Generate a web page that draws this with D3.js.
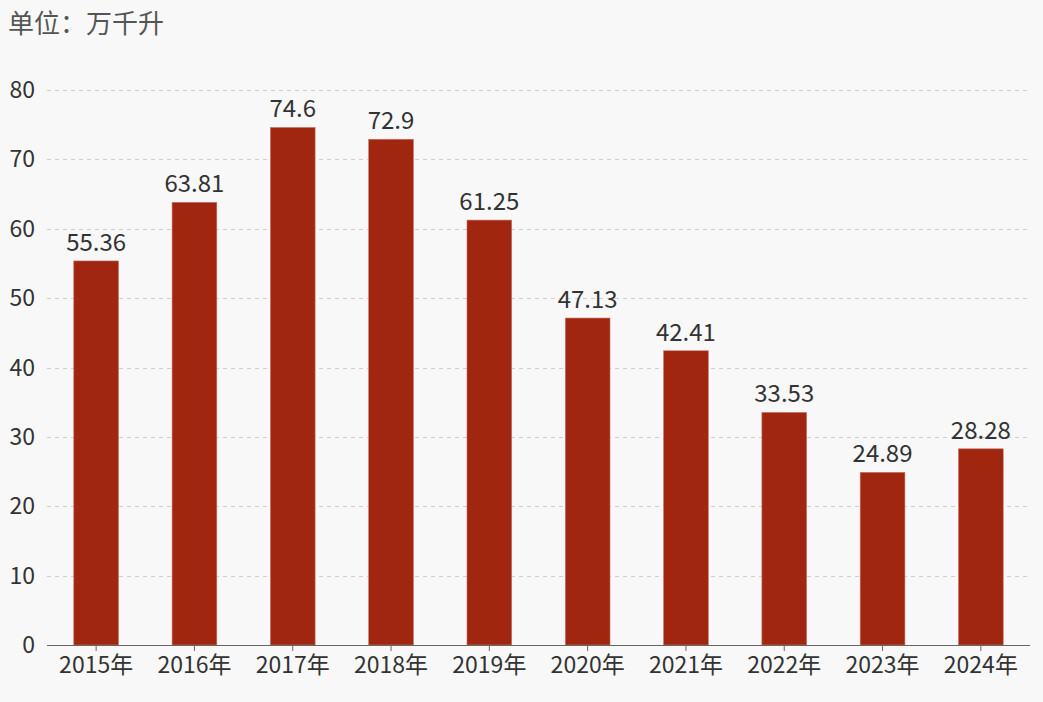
<!DOCTYPE html>
<html><head><meta charset="utf-8">
<script src="https://cdn.jsdelivr.net/npm/d3@7"></script>
<style>
html,body{margin:0;padding:0;background:#f8f8f8;}
svg{display:block;font-family:"Noto Sans CJK SC","Noto Sans",sans-serif;}
</style></head>
<body>
<svg id="chart" width="1043" height="702"></svg>
<script>
const categories = ["2015年","2016年","2017年","2018年","2019年","2020年","2021年","2022年","2023年","2024年"];
const values = [55.36, 63.81, 74.6, 72.9, 61.25, 47.13, 42.41, 33.53, 24.89, 28.28];
const valueLabels = ["55.36","63.81","74.6","72.9","61.25","47.13","42.41","33.53","24.89","28.28"];
const yTicks = [0,10,20,30,40,50,60,70,80];
const unitTitle = "单位：万千升";

const svg = d3.select("#chart");
const W = 1043, H = 702;
const m = {left: 47, right: 13, top: 90, bottom: 57};
svg.append("rect").attr("width", W).attr("height", H).attr("fill", "#f8f8f8");

const x = d3.scaleBand().domain(categories).range([m.left, W - m.right]).paddingInner(0.545).paddingOuter(0.2725);
const y = d3.scaleLinear().domain([0, 80]).range([H - m.bottom, m.top]);

// grid
svg.append("g").selectAll("line").data(yTicks.filter(d => d > 0)).join("line")
  .attr("x1", m.left).attr("x2", W - m.right)
  .attr("y1", d => Math.round(y(d)) + 0.5).attr("y2", d => Math.round(y(d)) + 0.5)
  .attr("stroke", "#cfcfcf").attr("stroke-dasharray", "4,4").attr("stroke-width", 1);

// y labels
svg.append("g").selectAll("text").data(yTicks).join("text")
  .attr("x", 35).attr("y", d => y(d)).attr("dy", "0.35em")
  .attr("text-anchor", "end").attr("font-size", 23).attr("fill", "#333")
  .text(d => d);

// bars
svg.append("g").selectAll("rect").data(values).join("rect")
  .attr("x", (d, i) => x(categories[i]))
  .attr("width", x.bandwidth())
  .attr("y", d => y(d))
  .attr("height", d => y(0) - y(d))
  .attr("fill", "#a0260f")
  .attr("stroke", "#c8766a").attr("stroke-width", 0.6);

// value labels
svg.append("g").selectAll("text").data(values).join("text")
  .attr("x", (d, i) => x(categories[i]) + x.bandwidth() / 2)
  .attr("y", d => y(d) - 10)
  .attr("text-anchor", "middle").attr("font-size", 24).attr("fill", "#333")
  .text((d, i) => valueLabels[i]);

// x axis
const xAxis = svg.append("g").attr("transform", `translate(0,${y(0)})`)
  .call(d3.axisBottom(x).tickSize(6).tickPadding(6));
xAxis.select(".domain").attr("stroke", "#666").attr("d", `M${m.left},0.5H${W - m.right}`);
xAxis.selectAll(".tick line").attr("stroke", "#666");
xAxis.selectAll(".tick text").attr("font-size", 23).attr("fill", "#333")
  .attr("font-family", '"Noto Sans CJK SC","Noto Sans",sans-serif');

// title
svg.append("text").attr("x", 8).attr("y", 33).attr("font-size", 26).attr("fill", "#555")
  .text(unitTitle);
</script>
</body></html>
